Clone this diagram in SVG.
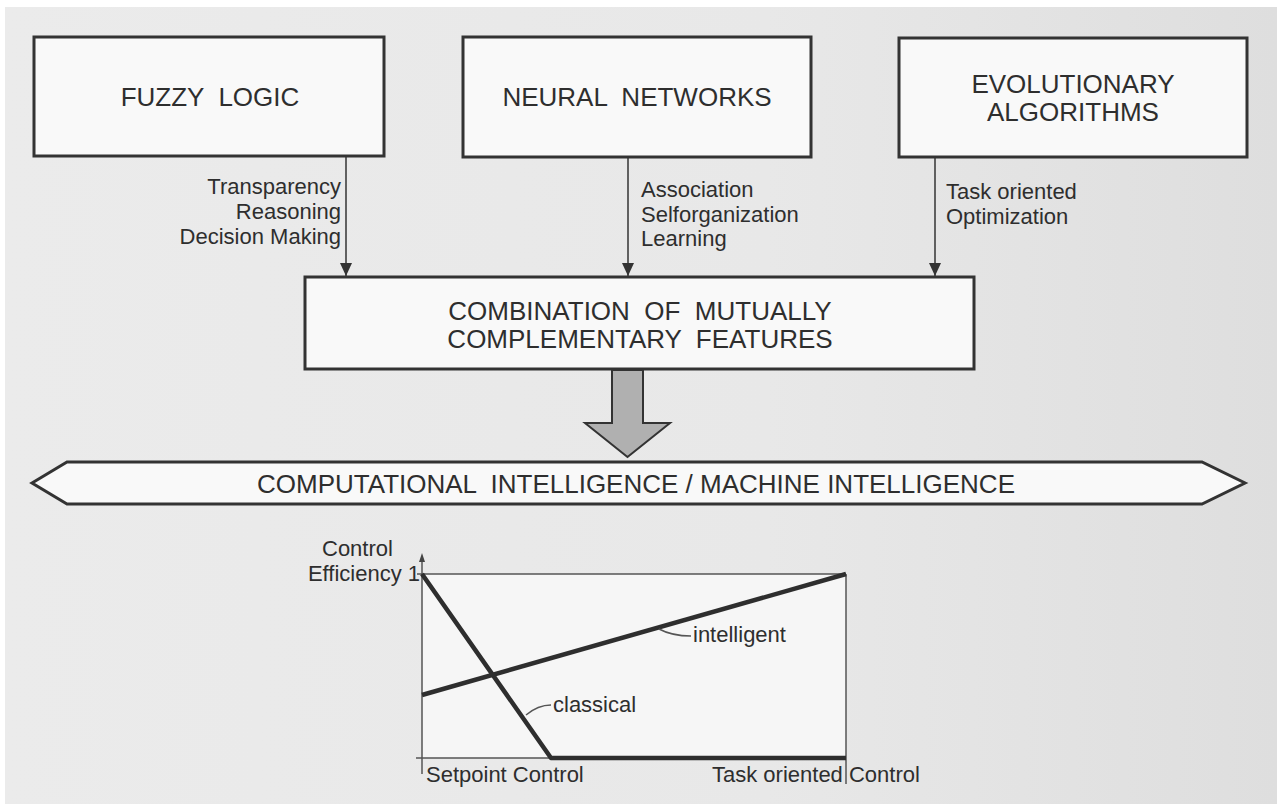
<svg xmlns="http://www.w3.org/2000/svg" width="1277" height="804" viewBox="0 0 1277 804">
  <defs>
    <linearGradient id="bg" x1="0" y1="0" x2="1" y2="0">
      <stop offset="0" stop-color="#ebebeb"/>
      <stop offset="0.6" stop-color="#e8e8e8"/>
      <stop offset="1" stop-color="#dedede"/>
    </linearGradient>
    <marker id="ah" markerUnits="userSpaceOnUse" markerWidth="14" markerHeight="12" refX="13" refY="6" orient="auto" viewBox="0 0 14 12">
      <path d="M0,0 L13,6 L0,12 Z" fill="#333"/>
    </marker>
  </defs>
  <style>
    .box { fill: #f9f9f9; stroke: #333; stroke-width: 3; }
    .title { font-family: "Liberation Sans", Arial, sans-serif; font-size: 26px; fill: #2e2e2e; text-anchor: middle; white-space: pre; }
    .lbl { font-family: "Liberation Sans", Arial, sans-serif; font-size: 22px; fill: #2e2e2e; }
    .conn { stroke: #333; stroke-width: 1.5; fill: none; }
    .thin { stroke: #555; stroke-width: 1.5; fill: none; }
    .thick { stroke: #2e2e2e; stroke-width: 4.5; fill: none; stroke-linejoin: round; }
  </style>
  <rect x="0" y="0" width="1277" height="804" fill="#ffffff"/>
  <rect x="5" y="7" width="1272" height="797" fill="url(#bg)"/>

  <g id="fuzzy-logic">
    <rect class="box" x="34" y="37" width="350" height="119"/>
    <text class="title" x="210" y="106" xml:space="preserve">FUZZY  LOGIC</text>
  </g>
  <g id="neural-networks">
    <rect class="box" x="463" y="37" width="348" height="120"/>
    <text class="title" x="637" y="106" xml:space="preserve">NEURAL  NETWORKS</text>
  </g>
  <g id="evolutionary-algorithms">
    <rect class="box" x="899" y="38" width="348" height="119"/>
    <text class="title" x="1073" y="93">EVOLUTIONARY</text>
    <text class="title" x="1073" y="121">ALGORITHMS</text>
  </g>
  <g id="combination">
    <rect class="box" x="305" y="277" width="669" height="92"/>
    <text class="title" x="640" y="320" xml:space="preserve">COMBINATION  OF  MUTUALLY</text>
    <text class="title" x="640" y="348" xml:space="preserve">COMPLEMENTARY  FEATURES</text>
  </g>
  <g id="computational-intelligence">
    <polygon class="box" points="32,483 67,462 1202,462 1245,483 1202,504 67,504"/>
    <text class="title" x="636" y="493" xml:space="preserve">COMPUTATIONAL  INTELLIGENCE / MACHINE INTELLIGENCE</text>
  </g>

  <g id="connectors">
    <line class="conn" x1="346" y1="157" x2="346" y2="276" marker-end="url(#ah)"/>
    <line class="conn" x1="628" y1="158" x2="628" y2="276" marker-end="url(#ah)"/>
    <line class="conn" x1="935" y1="158" x2="935" y2="276" marker-end="url(#ah)"/>
    <polygon points="612,370 643,370 643,423 670,423 627.5,457 585,423 612,423" fill="#b0b0b0" stroke="#333" stroke-width="2" stroke-linejoin="miter"/>
  </g>

  <g id="connector-labels">
    <text class="lbl" x="341" y="194" text-anchor="end">Transparency</text>
    <text class="lbl" x="341" y="219" text-anchor="end">Reasoning</text>
    <text class="lbl" x="341" y="244" text-anchor="end">Decision Making</text>
    <text class="lbl" x="641" y="197">Association</text>
    <text class="lbl" x="641" y="222">Selforganization</text>
    <text class="lbl" x="641" y="246">Learning</text>
    <text class="lbl" x="946" y="199">Task oriented</text>
    <text class="lbl" x="946" y="224">Optimization</text>
  </g>

  <g id="chart">
    <rect x="422" y="574" width="424" height="184" fill="#f6f6f6"/>
    <line class="thin" x1="422" y1="574" x2="846" y2="574" stroke="#777"/>
    <line class="thin" x1="846" y1="574" x2="846" y2="784"/>
    <line class="thin" x1="416" y1="758" x2="846" y2="758"/>
    <line class="thin" x1="422" y1="560" x2="422" y2="774"/>
    <path d="M422,553 L419,562 L425,562 Z" fill="#444"/>
    <line class="thin" x1="417" y1="574" x2="422" y2="574"/>
    <polyline class="thick" points="422,574 551,758 846,758"/>
    <line class="thick" x1="422" y1="695" x2="846" y2="574"/>
    <path class="thin" d="M659,629 Q672,636 691,636"/>
    <path class="thin" d="M526,715 Q538,705 551,705"/>
    <text class="lbl" x="693" y="642">intelligent</text>
    <text class="lbl" x="553" y="712">classical</text>
    <text class="lbl" x="322" y="556">Control</text>
    <text class="lbl" x="420" y="581" text-anchor="end">Efficiency 1</text>
    <text class="lbl" x="426" y="782">Setpoint Control</text>
    <text class="lbl" x="712" y="782">Task oriented Control</text>
  </g>
</svg>
